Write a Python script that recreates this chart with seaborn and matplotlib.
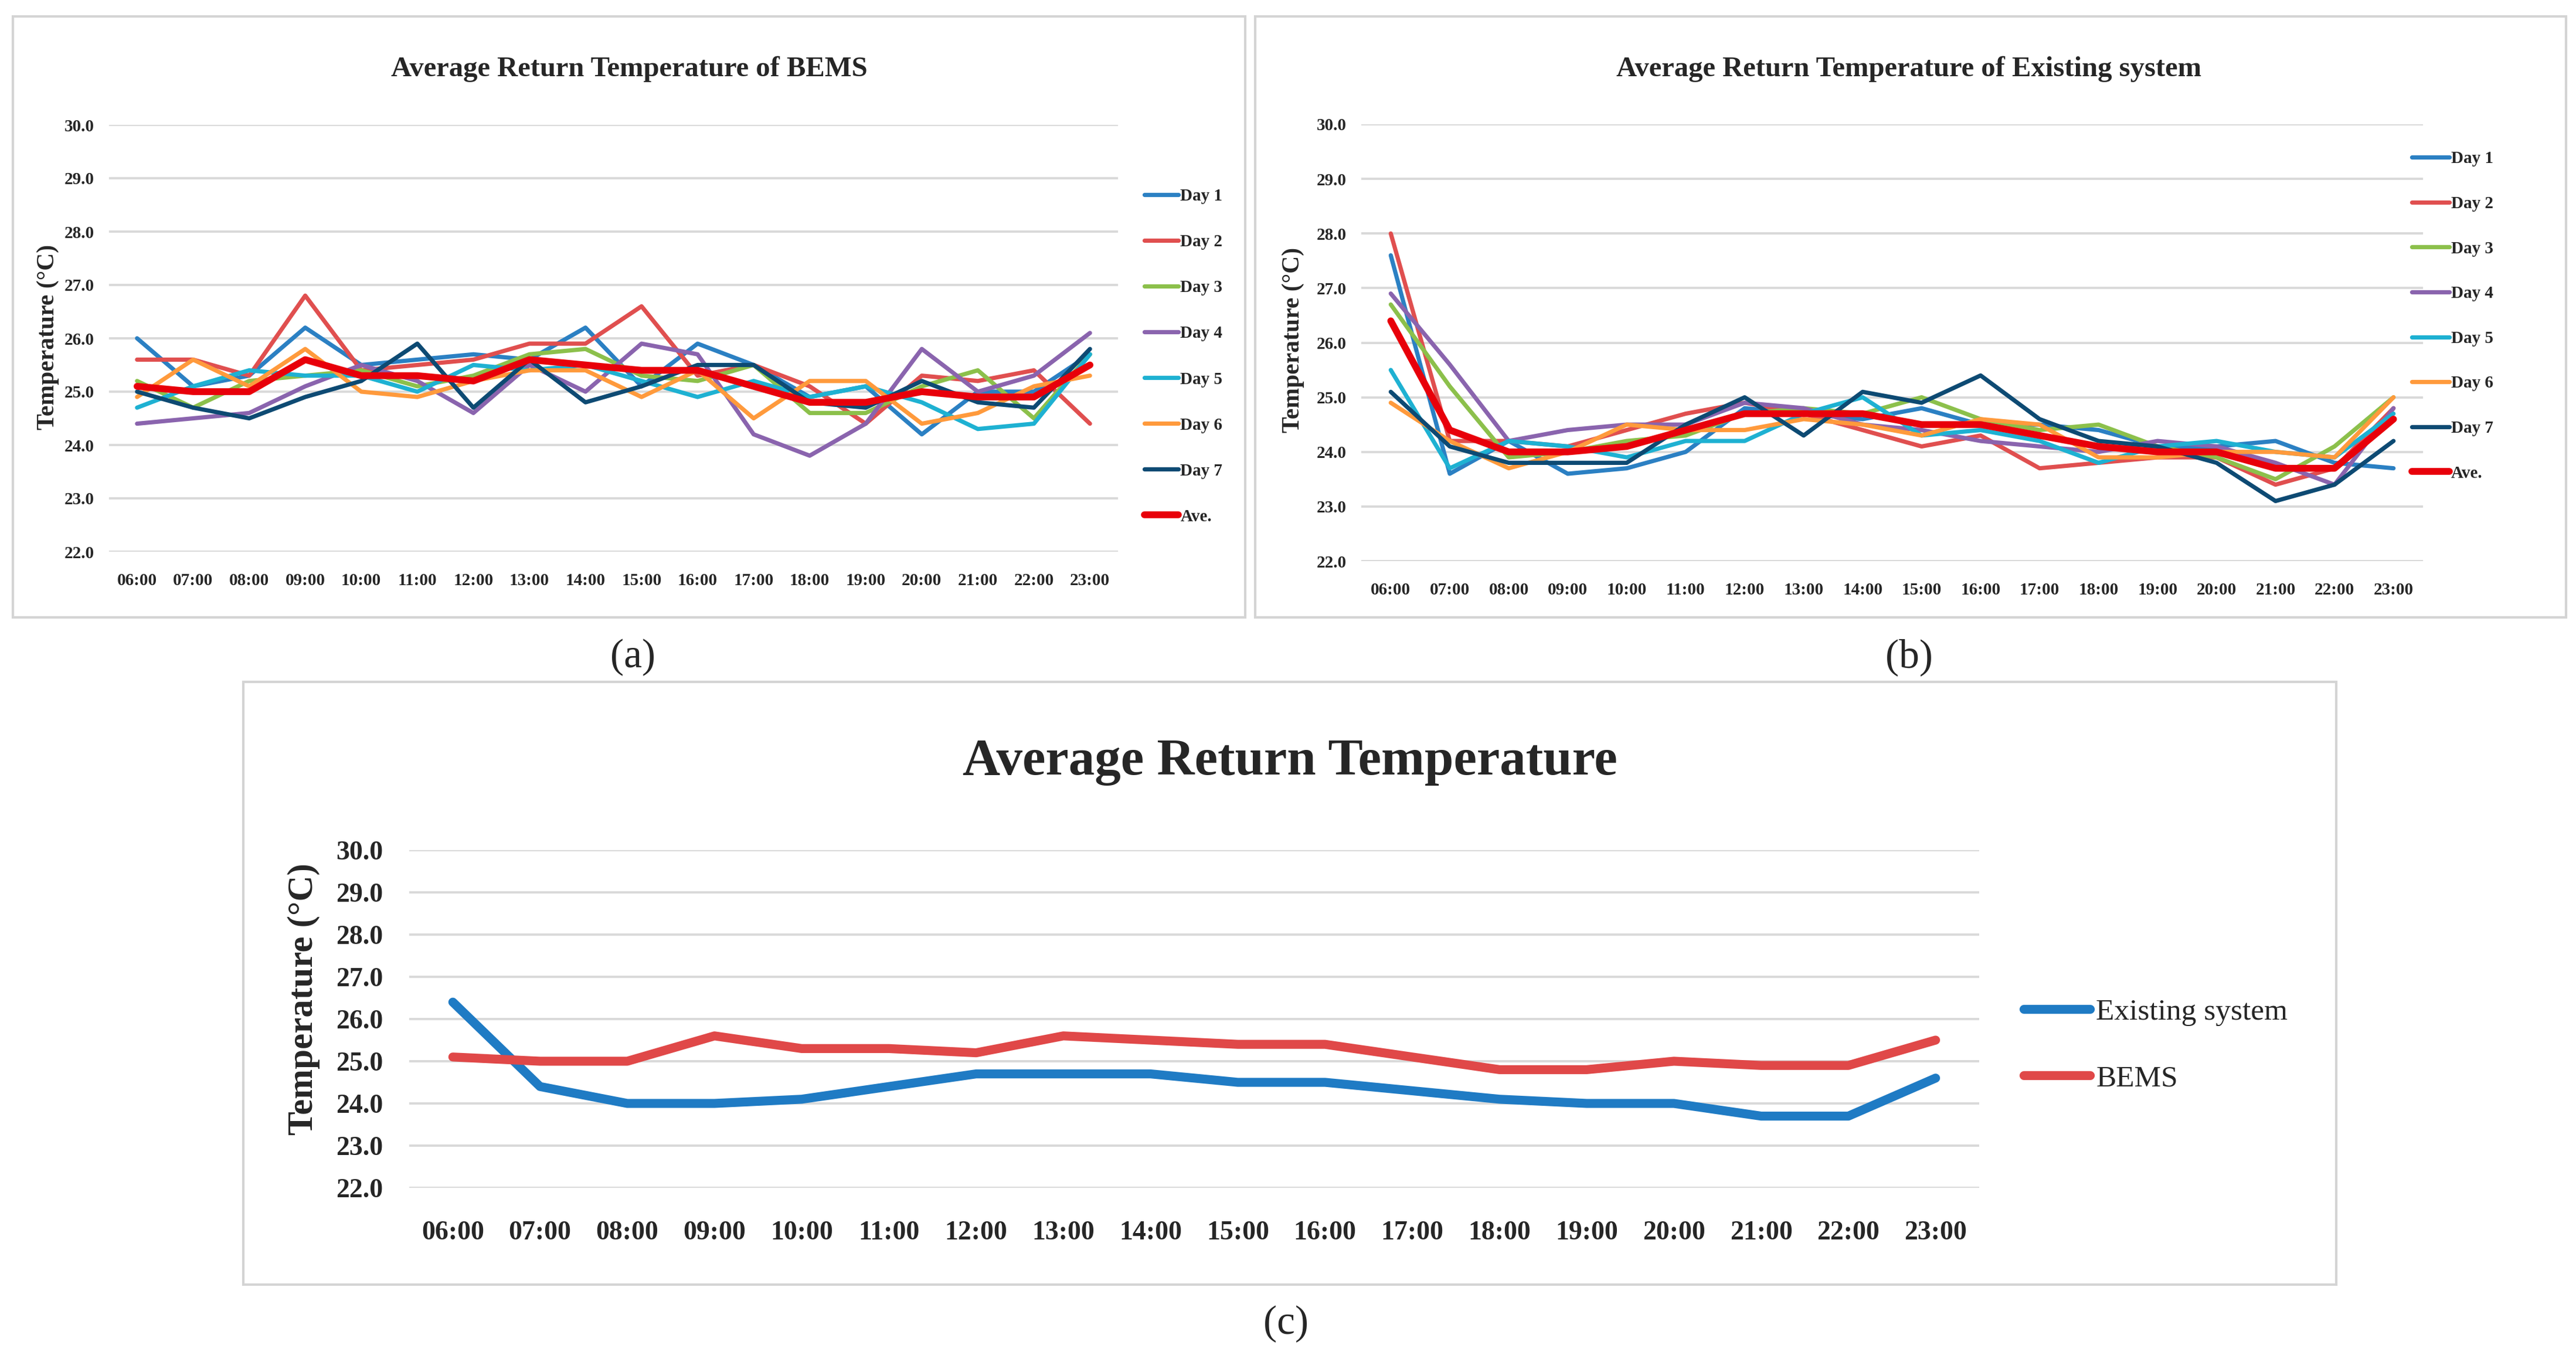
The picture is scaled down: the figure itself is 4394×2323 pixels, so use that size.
import matplotlib
matplotlib.use('Agg')
import matplotlib.pyplot as plt
import numpy as np
import pandas as pd
import seaborn as sns
from matplotlib.patches import Rectangle

# Data
hours = ['06:00', '07:00', '08:00', '09:00', '10:00', '11:00', '12:00', '13:00', '14:00',
         '15:00', '16:00', '17:00', '18:00', '19:00', '20:00', '21:00', '22:00', '23:00']
series_names = ['Day 1', 'Day 2', 'Day 3', 'Day 4', 'Day 5', 'Day 6', 'Day 7', 'Ave.']

bems_day1 = [26.0, 25.1, 25.3, 26.2, 25.5, 25.6, 25.7, 25.6, 26.2, 25.1, 25.9, 25.5, 24.9, 25.1, 24.2, 25.0, 25.0, 25.7]
bems_day2 = [25.6, 25.6, 25.3, 26.8, 25.4, 25.5, 25.6, 25.9, 25.9, 26.6, 25.3, 25.5, 25.1, 24.4, 25.3, 25.2, 25.4, 24.4]
bems_day3 = [25.2, 24.7, 25.2, 25.3, 25.4, 25.1, 25.3, 25.7, 25.8, 25.3, 25.2, 25.5, 24.6, 24.6, 25.1, 25.4, 24.5, 25.7]
bems_day4 = [24.4, 24.5, 24.6, 25.1, 25.5, 25.2, 24.6, 25.5, 25.0, 25.9, 25.7, 24.2, 23.8, 24.4, 25.8, 25.0, 25.3, 26.1]
bems_day5 = [24.7, 25.1, 25.4, 25.3, 25.3, 25.0, 25.5, 25.4, 25.5, 25.2, 24.9, 25.2, 24.9, 25.1, 24.8, 24.3, 24.4, 25.7]
bems_day6 = [24.9, 25.6, 25.1, 25.8, 25.0, 24.9, 25.2, 25.4, 25.4, 24.9, 25.4, 24.5, 25.2, 25.2, 24.4, 24.6, 25.1, 25.3]
bems_day7 = [25.0, 24.7, 24.5, 24.9, 25.2, 25.9, 24.7, 25.6, 24.8, 25.1, 25.5, 25.5, 24.8, 24.7, 25.2, 24.8, 24.7, 25.8]
bems_ave = [25.1, 25.0, 25.0, 25.6, 25.3, 25.3, 25.2, 25.6, 25.5, 25.4, 25.4, 25.1, 24.8, 24.8, 25.0, 24.9, 24.9, 25.5]

exist_day1 = [27.6, 23.6, 24.2, 23.6, 23.7, 24.0, 24.8, 24.7, 24.6, 24.8, 24.5, 24.5, 24.4, 24.1, 24.1, 24.2, 23.8, 23.7]
exist_day2 = [28.0, 24.2, 24.2, 24.1, 24.4, 24.7, 24.9, 24.7, 24.4, 24.1, 24.3, 23.7, 23.8, 23.9, 23.9, 23.4, 23.7, 24.8]
exist_day3 = [26.7, 25.2, 23.9, 24.0, 24.2, 24.3, 24.7, 24.8, 24.7, 25.0, 24.6, 24.4, 24.5, 24.1, 23.9, 23.5, 24.1, 25.0]
exist_day4 = [26.9, 25.6, 24.2, 24.4, 24.5, 24.5, 24.9, 24.8, 24.5, 24.4, 24.2, 24.1, 24.0, 24.2, 24.1, 23.8, 23.4, 24.8]
exist_day5 = [25.5, 23.7, 24.2, 24.1, 23.9, 24.2, 24.2, 24.7, 25.0, 24.3, 24.4, 24.2, 23.8, 24.1, 24.2, 24.0, 23.9, 24.7]
exist_day6 = [24.9, 24.2, 23.7, 24.0, 24.5, 24.4, 24.4, 24.6, 24.5, 24.3, 24.6, 24.5, 23.9, 23.9, 24.0, 24.0, 23.9, 25.0]
exist_day7 = [25.1, 24.1, 23.8, 23.8, 23.8, 24.5, 25.0, 24.3, 25.1, 24.9, 25.4, 24.6, 24.2, 24.1, 23.8, 23.1, 23.4, 24.2]
exist_ave = [26.4, 24.4, 24.0, 24.0, 24.1, 24.4, 24.7, 24.7, 24.7, 24.5, 24.5, 24.3, 24.1, 24.0, 24.0, 23.7, 23.7, 24.6]

day_colors = ['#2B80C3', '#E04F4F', '#8CC04B', '#8A64AE', '#1EB1D2', '#FF9A3C', '#0D4A73', '#E8000A']
summary_names = ['Existing system', 'BEMS']
summary_colors = ['#1F7BC4', '#E04848']

W, H = 4394, 2323
DPI = 200

sns.set_theme(style='white')
plt.rcParams['font.family'] = ['Liberation Serif', 'DejaVu Serif']

fig = plt.figure(figsize=(W / DPI, H / DPI), dpi=DPI)
fig.patch.set_facecolor('white')


def box(x0, y0, x1, y1):
    return [x0 / W, 1 - y1 / H, (x1 - x0) / W, (y1 - y0) / H]


def ftext(x, y, s, **kw):
    fig.text(x / W, 1 - y / H, s, ha='center', va='center', **kw)


# panel frames
for x0, y0, x1, y1 in [(22, 28, 2124, 1053), (2141, 28, 4377, 1053), (415, 1163, 3985, 2191)]:
    fig.add_artist(Rectangle((x0 / W, 1 - y1 / H), (x1 - x0) / W, (y1 - y0) / H,
                             transform=fig.transFigure, fill=False,
                             edgecolor='#D4D4D4', linewidth=1.5))


def style_axes(ax, tick_size, xpad, ypad, weight):
    ax.set_xlim(-0.5, len(hours) - 0.5)
    ax.set_ylim(22, 30)
    ax.set_yticks(np.arange(22, 31))
    ax.set_yticklabels([f'{v:.1f}' for v in np.arange(22, 31)], fontsize=tick_size, fontweight=weight)
    ax.set_xticks(range(len(hours)))
    ax.set_xticklabels(hours, fontsize=tick_size, fontweight=weight)
    ax.tick_params(axis='x', length=0, pad=xpad)
    ax.tick_params(axis='y', length=0, pad=ypad)
    for s in ax.spines.values():
        s.set_visible(False)
    ax.grid(axis='y', color='#D9D9D9', linewidth=1.4)
    ax.grid(axis='x', visible=False)
    ax.set_axisbelow(True)
    ax.set_xlabel('')
    ax.set_ylabel('')
    ax.set_facecolor('none')


def draw_days(ax, values):
    for name, vals, color in zip(series_names, values, day_colors):
        lw = 4.2 if name == 'Ave.' else 2.6
        sns.lineplot(x=hours, y=vals, color=color, linewidth=lw, label=name, ax=ax, sort=False)


# (a) BEMS
ax_a = fig.add_axes(box(186, 213, 1907, 941))
draw_days(ax_a, [bems_day1, bems_day2, bems_day3, bems_day4, bems_day5, bems_day6, bems_day7, bems_ave])
style_axes(ax_a, 10.5, 13, 9, 'bold')
ax_a.legend(loc='center left', bbox_to_anchor=(1952 / W, 1 - 608 / H), bbox_transform=fig.transFigure,
            frameon=False, prop={'size': 10.5, 'weight': 'bold'}, handlelength=2.0, handletextpad=0.1,
            labelspacing=1.75, borderpad=0, borderaxespad=0)
ftext(1073, 118, 'Average Return Temperature of BEMS', fontsize=17.5, fontweight='bold')
ftext(82, 575, 'Temperature (°C)', fontsize=15, fontweight='bold', rotation=90)
ftext(1079, 1121, '(a)', fontsize=25)

# (b) Existing system
ax_b = fig.add_axes(box(2322, 212, 4133, 957))
draw_days(ax_b, [exist_day1, exist_day2, exist_day3, exist_day4, exist_day5, exist_day6, exist_day7, exist_ave])
style_axes(ax_b, 10.5, 13, 9, 'bold')
ax_b.legend(loc='center left', bbox_to_anchor=(4114 / W, 1 - 539 / H), bbox_transform=fig.transFigure,
            frameon=False, prop={'size': 10.5, 'weight': 'bold'}, handlelength=2.2, handletextpad=0.1,
            labelspacing=1.7, borderpad=0, borderaxespad=0)
ftext(3256, 118, 'Average Return Temperature of Existing system', fontsize=17.5, fontweight='bold')
ftext(2206, 580, 'Temperature (°C)', fontsize=15, fontweight='bold', rotation=90)
ftext(3256, 1121, '(b)', fontsize=25)

# (c) comparison
ax_c = fig.add_axes(box(698, 1450, 3376, 2026))
for name, vals, color in zip(summary_names, [exist_ave, bems_ave], summary_colors):
    sns.lineplot(x=hours, y=vals, color=color, linewidth=5.5, label=name, ax=ax_c, sort=False)
style_axes(ax_c, 16.5, 20, 16, 'bold')
ax_c.legend(loc='center left', bbox_to_anchor=(3452 / W, 1 - 1783 / H), bbox_transform=fig.transFigure,
            frameon=False, fontsize=18.5, handlelength=2.2, handletextpad=0.2, labelspacing=1.3,
            borderpad=0, borderaxespad=0)
ftext(2200, 1300, 'Average Return Temperature', fontsize=32, fontweight='bold')
ftext(518, 1704, 'Temperature (°C)', fontsize=22, fontweight='bold', rotation=90)
ftext(2194, 2258, '(c)', fontsize=25)

fig.savefig('out.png', dpi=DPI, facecolor='white')
